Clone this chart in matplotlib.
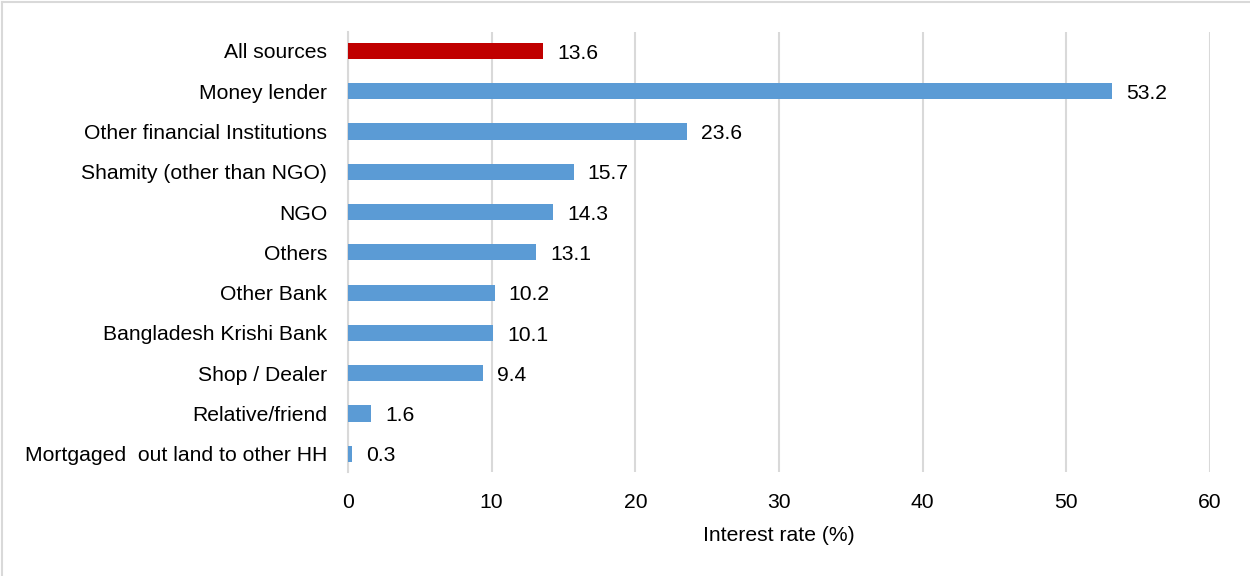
import matplotlib
matplotlib.use("Agg")
import matplotlib.pyplot as plt
from matplotlib.lines import Line2D

categories = ["All sources", "Money lender", "Other financial Institutions",
              "Shamity (other than NGO)", "NGO", "Others", "Other Bank",
              "Bangladesh Krishi Bank", "Shop / Dealer", "Relative/friend",
              "Mortgaged  out land to other HH"]
values = [13.6, 53.2, 23.6, 15.7, 14.3, 13.1, 10.2, 10.1, 9.4, 1.6, 0.3]
colors = ["#C00000"] + ["#5B9BD5"] * (len(values) - 1)
xticks = [0, 10, 20, 30, 40, 50, 60]

plt.rcParams['font.family'] = ['Liberation Sans', 'DejaVu Sans']
FS = 15.2

fig = plt.figure(figsize=(12.5, 5.76), dpi=100)
ax = fig.add_axes([0.2784, 0.1806, 0.6896, 0.7638])

ypos = list(range(len(categories)))
ax.barh(ypos, values, height=0.4, color=colors, zorder=3)
ax.set_ylim(len(categories) - 0.55, -0.47)
ax.set_xlim(0, 60)
ax.set_xticks(xticks)
ax.set_xticklabels([str(t) for t in xticks], fontsize=FS)
ax.set_yticks(ypos)
ax.set_yticklabels(categories, fontsize=FS)
ax.tick_params(axis='both', length=0, colors='#000000')
ax.tick_params(axis='x', pad=15)
ax.tick_params(axis='y', pad=15)
ax.grid(axis='x', color='#D9D9D9', linewidth=1.5, zorder=0)
for s in ['top', 'right', 'bottom']:
    ax.spines[s].set_visible(False)
ax.spines['left'].set_color('#D9D9D9')
ax.spines['left'].set_linewidth(1.5)

for y, v in zip(ypos, values):
    ax.annotate(f"{v}", xy=(v, y), xytext=(10, -1.5), textcoords='offset points',
                va='center', ha='left', fontsize=FS)

ax.set_xlabel("Interest rate (%)", fontsize=FS, labelpad=10)

fig.lines.append(Line2D([0.0016, 1.0], [0.9965, 0.9965], transform=fig.transFigure,
                        color='#D9D9D9', linewidth=1.5))
fig.lines.append(Line2D([0.0016, 0.0016], [0.0, 0.9965], transform=fig.transFigure,
                        color='#D9D9D9', linewidth=1.5))

fig.savefig("out.png", dpi=100)
